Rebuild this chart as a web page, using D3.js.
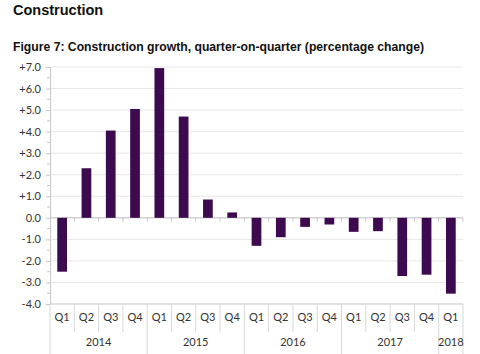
<!DOCTYPE html>
<html>
<head>
<meta charset="utf-8">
<script src="https://cdn.jsdelivr.net/npm/d3@7"></script>
<style>
  body { margin: 0; background: #fff; }
  .title { font-family: "Liberation Sans", Arial, sans-serif; font-weight: bold; fill: #111; }
  .tick text { font-family: Lato, "Open Sans", sans-serif; font-size: 11px; fill: #333; }
</style>
</head>
<body>
<div id="chart"></div>
<script>
// * Data
var quarters = ["Q1", "Q2", "Q3", "Q4", "Q1", "Q2", "Q3", "Q4", "Q1", "Q2", "Q3", "Q4", "Q1", "Q2", "Q3", "Q4", "Q1"];
var years = ["2014", "2014", "2014", "2014", "2015", "2015", "2015", "2015", "2016", "2016", "2016", "2016", "2017", "2017", "2017", "2017", "2018"];
var growth = [-2.5, 2.3, 4.05, 5.05, 6.95, 4.7, 0.85, 0.25, -1.3, -0.9, -0.42, -0.31, -0.65, -0.62, -2.7, -2.64, -3.52];
var yTicks = [-4, -3, -2, -1, 0, 1, 2, 3, 4, 5, 6, 7];

var data = growth.map(function (v, i) {
  return { key: i, q: quarters[i], year: years[i], value: v };
});

// * Dimensions
var W = 480, H = 354;
var margin = { left: 50, top: 67, right: 17, bottom: 50 };
var width = W - margin.left - margin.right;
var height = H - margin.top - margin.bottom;

var svg = d3.select("#chart").append("svg")
  .attr("width", W)
  .attr("height", H);

svg.append("text").attr("class", "title")
  .attr("x", 13).attr("y", 15)
  .style("font-size", "14.5px")
  .text("Construction");

svg.append("text").attr("class", "title")
  .attr("x", 13).attr("y", 51)
  .style("font-size", "12.2px")
  .text("Figure 7: Construction growth, quarter-on-quarter (percentage change)");

var g = svg.append("g")
  .attr("transform", "translate(" + margin.left + "," + margin.top + ")");

// * Scales
var x = d3.scaleBand().domain(data.map(function (d) { return d.key; }))
  .range([0, width]).paddingInner(0.6).paddingOuter(0.3);
var y = d3.scaleLinear().domain([-4, 7]).range([height, 0]);

// * Gridlines
g.append("g")
  .selectAll("line")
  .data(yTicks)
  .enter().append("line")
  .attr("x1", 0).attr("x2", width)
  .attr("y1", function (d) { return y(d); })
  .attr("y2", function (d) { return y(d); })
  .attr("stroke", function (d) { return d === 0 ? "#bdbdbd" : "#e6e6e6"; })
  .attr("stroke-width", 1);

// * Y axis
var yAxis = g.append("g")
  .call(d3.axisLeft(y).tickValues(yTicks).tickSize(4)
    .tickFormat(function (d) { return d > 0 ? "+" + d.toFixed(1) : d.toFixed(1); }));
yAxis.select(".domain").attr("stroke", "#c8c8c8");
yAxis.selectAll(".tick line").attr("stroke", "#c8c8c8");
yAxis.selectAll(".tick text").attr("x", -9);

// minor ticks at half steps
g.append("g")
  .selectAll("line")
  .data(d3.range(-3.5, 7, 1))
  .enter().append("line")
  .attr("x1", -3).attr("x2", 0)
  .attr("y1", function (d) { return y(d); })
  .attr("y2", function (d) { return y(d); })
  .attr("stroke", "#c8c8c8");

// * Bars
g.selectAll(".bar")
  .data(data)
  .enter().append("rect")
  .attr("class", "bar")
  .attr("x", function (d) { return x(d.key); })
  .attr("width", x.bandwidth())
  .attr("y", function (d) { return y(Math.max(0, d.value)); })
  .attr("height", function (d) { return Math.abs(y(d.value) - y(0)); })
  .attr("fill", "#3d0a4f");

// small ticks below the zero line at category boundaries
var step = x.step();
g.append("g")
  .selectAll("line")
  .data(d3.range(1, data.length + 1))
  .enter().append("line")
  .attr("x1", function (i) { return i * step; })
  .attr("x2", function (i) { return i * step; })
  .attr("y1", y(0)).attr("y2", y(0) + 4)
  .attr("stroke", "#c8c8c8");

// * Category axis (quarters + years)
var xg = g.append("g").attr("transform", "translate(0," + height + ")");
xg.append("line").attr("x1", 0).attr("x2", width).attr("stroke", "#d0d0d0");

xg.selectAll(".qsep")
  .data(d3.range(0, data.length + 1))
  .enter().append("line")
  .attr("x1", function (i) { return i * step; })
  .attr("x2", function (i) { return i * step; })
  .attr("y1", 0)
  .attr("y2", function (i) {
    return (i === 0 || i === data.length || years[i] !== years[i - 1]) ? H - margin.top - height : 28;
  })
  .attr("stroke", "#d8d8d8");

xg.selectAll(".qlab")
  .data(data)
  .enter().append("text")
  .attr("class", "tick")
  .attr("x", function (d) { return x(d.key) + x.bandwidth() / 2; })
  .attr("y", 17)
  .attr("text-anchor", "middle")
  .style("font-family", "Lato, 'Open Sans', sans-serif")
  .style("font-size", "11px")
  .attr("fill", "#333")
  .text(function (d) { return d.q; });

var yearGroups = d3.groups(data, function (d) { return d.year; });
xg.selectAll(".ylab")
  .data(yearGroups)
  .enter().append("text")
  .attr("x", function (gp) {
    var first = gp[1][0].key, last = gp[1][gp[1].length - 1].key;
    return ((first + last + 1) / 2) * step;
  })
  .attr("y", 42)
  .attr("text-anchor", "middle")
  .style("font-family", "Lato, 'Open Sans', sans-serif")
  .style("font-size", "11px")
  .attr("fill", "#333")
  .text(function (gp) { return gp[0]; });
</script>
</body>
</html>
